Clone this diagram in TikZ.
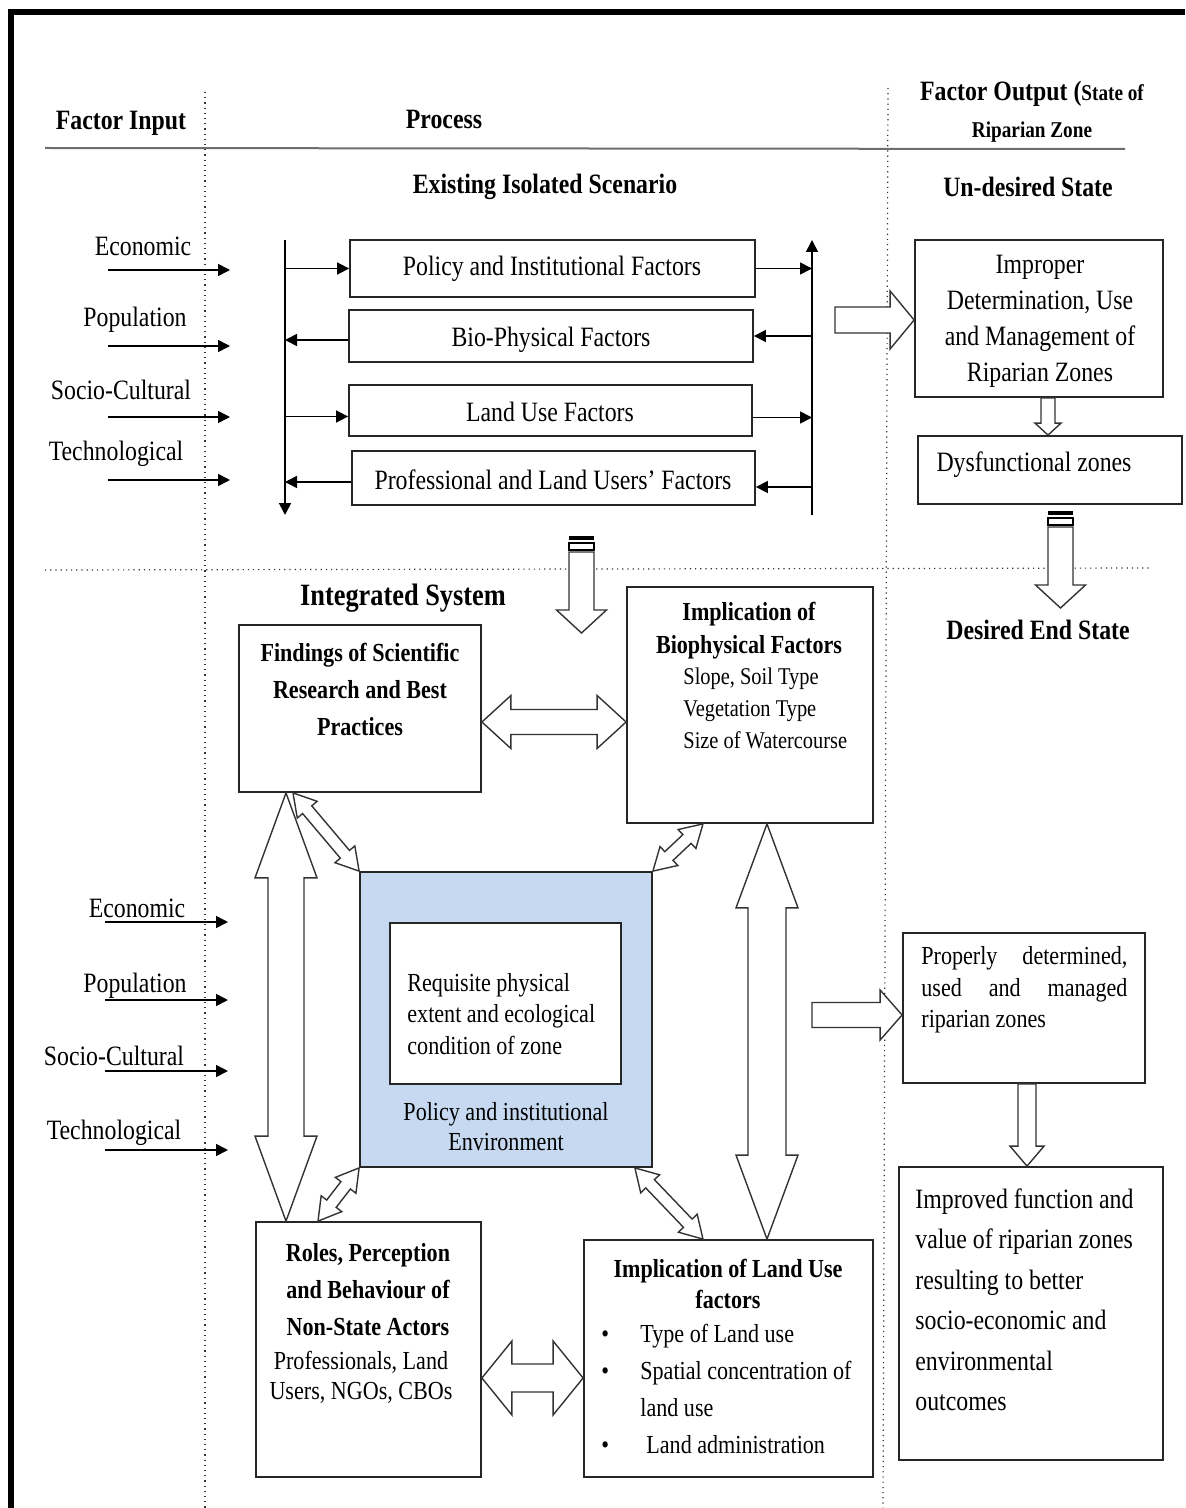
\documentclass[tikz,border=0pt]{standalone}
\usepackage{fontspec}
\setmainfont[FakeStretch=0.85]{Liberation Serif}
\usetikzlibrary{arrows.meta, positioning, fit, calc}
\definecolor{envblue}{RGB}{198,217,240}
\definecolor{rulegray}{RGB}{110,110,110}

\tikzset{
  box/.style={draw=black!85, line width=0.9pt, inner sep=0pt},
  hollow/.style={draw=black!80, line width=0.7pt, fill=white},
  arr/.style={-{Triangle[length=6pt,width=6pt]}, line width=0.8pt},
  sep/.style={dotted, line width=0.6pt, black!80},
  hd/.style={font=\fontsize{14}{18}\selectfont\bfseries},
  sm/.style={font=\fontsize{13}{#1}\selectfont},
  smb/.style={font=\fontsize{13}{#1}\selectfont\bfseries},
}

% hollow block arrow: tail #1, tip #2, half shaft #3, half head #4, head length #5
\newcommand{\hollowone}[5]{%
  \draw[hollow] ($(#1)!#3!90:(#2)$) -- ($(#2)!#5!(#1)!#3!-90:(#1)$)
    -- ($(#2)!#5!(#1)!#4!-90:(#1)$) -- (#2) -- ($(#2)!#5!(#1)!#4!90:(#1)$)
    -- ($(#2)!#5!(#1)!#3!90:(#1)$) -- ($(#1)!#3!-90:(#2)$) -- cycle;}
% hollow double block arrow between #1 and #2
\newcommand{\hollowtwo}[5]{%
  \draw[hollow] (#1) -- ($(#1)!#5!(#2)!#4!90:(#2)$) -- ($(#1)!#5!(#2)!#3!90:(#2)$)
    -- ($(#2)!#5!(#1)!#3!-90:(#1)$) -- ($(#2)!#5!(#1)!#4!-90:(#1)$) -- (#2)
    -- ($(#2)!#5!(#1)!#4!90:(#1)$) -- ($(#2)!#5!(#1)!#3!90:(#1)$)
    -- ($(#1)!#5!(#2)!#3!-90:(#2)$) -- ($(#1)!#5!(#2)!#4!-90:(#2)$) -- cycle;}

\begin{document}
\begin{tikzpicture}[x=0.5pt, y=-0.5pt, inner sep=0pt, font=\fontsize{14}{17}\selectfont]
    \useasboundingbox (0,0) rectangle (1185,1508);
    % Frame
    \draw[line width=3pt] (11,1508) -- (11,12) -- (1185,12);

    % Column heads
    \node[hd] (finput) at (121,123) {Factor Input};
    \node[hd] (proc) at (444,119) {Process};
    \node[align=center, font=\fontsize{14}{18.5}\selectfont\bfseries] (foutput) at (1032,112)
        {Factor Output ({\fontsize{11.3}{14}\selectfont State of}\\{\fontsize{11.3}{14}\selectfont Riparian Zone}};
    \draw[rulegray, line width=1pt] (45,148) -- (1125,149);

    % Separators
    \draw[sep] (205,92) -- (205,1508);
    \draw[sep] (888,88) -- (883,1508);
    \draw[sep] (45,570) -- (1150,568);

    % Titles
    \node[hd] (exist) at (545,187) {Existing Isolated Scenario};
    \node[hd] (undes) at (1028,187) {Un-desired State};
    \node[hd] (desired) at (1038,630) {Desired End State};
    \node[font=\fontsize{15.5}{18}\selectfont\bfseries] (integ) at (403,598) {Integrated System};

    % Factor inputs
    \foreach \i/\t/\lx/\ly/\ay in {1/Economic/143/246/270, 2/Population/135/320/346,
        3/Socio-Cultural/121/390/417, 4/Technological/116/454/480}{
      \node (inpa\i) at (\lx,\ly) {\t};
      \coordinate (inas\i) at (108,\ay);
      \coordinate (inae\i) at (230,\ay);
      \draw[arr] (inas\i) -- (inae\i);
    }
    \foreach \i/\t/\lx/\ly/\ay in {1/Economic/137/908/922, 2/Population/135/986/1000,
        3/Socio-Cultural/114/1056/1071, 4/Technological/114/1133/1150}{
      \node (inpb\i) at (\lx,\ly) {\t};
      \coordinate (inbs\i) at (105,\ay);
      \coordinate (inbe\i) at (228,\ay);
      \draw[arr] (inbs\i) -- (inbe\i);
    }

    % Existing isolated scenario
    \node[box, fit={(350,240) (755,297)}] (pif) {};
    \node[box, fit={(349,310) (753,362)}] (bpf) {};
    \node[box, fit={(349,385) (752,436)}] (luf) {};
    \node[box, fit={(352,451) (755,505)}] (plf) {};
    \node (piftxt) at (552,269) {Policy and Institutional Factors};
    \node (bpftxt) at (551,340) {Bio-Physical Factors};
    \node (luftxt) at (550,412) {Land Use Factors};
    \node (plftxt) at (553,480) {Professional and Land Users’ Factors};

    \coordinate (vl1) at (285,240);
    \coordinate (vl2) at (285,515);
    \coordinate (vr1) at (812,515);
    \coordinate (vr2) at (812,240);
    \draw[arr] (vl1) -- (vl2);
    \draw[arr] (vr1) -- (vr2);

    \coordinate (bpfw) at ([yshift=-2pt]bpf.west);
    \coordinate (lufw) at ([yshift=-3pt]luf.west);
    \coordinate (lufe) at ([yshift=-3.5pt]luf.east);
    \coordinate (plfw) at ([yshift=-2pt]plf.west);
    \coordinate (plfe) at ([yshift=-4.5pt]plf.east);
    \draw[arr] (vl1 |- pif.west) -- (pif.west);
    \draw[arr] (pif.east) -- (vr1 |- pif.east);
    \draw[arr] (bpfw) -- (vl1 |- bpfw);
    \draw[arr] (vr1 |- bpf.east) -- (bpf.east);
    \draw[arr] (vl1 |- lufw) -- (lufw);
    \draw[arr] (lufe) -- (vr1 |- lufe);
    \draw[arr] (plfw) -- (vl1 |- plfw);
    \draw[arr] (vr1 |- plfe) -- (plfe);

    % Un-desired state
    \node[box, fit={(915,240) (1163,397)}] (impr) {};
    \node[align=center, font=\fontsize{14}{18}\selectfont] (imprtxt) at (1040,321)
        {Improper\\Determination, Use\\and Management of\\Riparian Zones};
    \node[box, fit={(918,436) (1182,504)}] (dys) {};
    \node (dystxt) at (1034,465) {Dysfunctional zones};

    \coordinate (exo) at (835,320);
    \coordinate (exi) at (impr.west |- exo);
    \hollowone{exo}{exi}{6.5pt}{14.5pt}{12pt}
    \coordinate (id1) at (1048,0 |- impr.south);
    \coordinate (id2) at (1048,0 |- dys.north);
    \hollowone{id1}{id2}{3.5pt}{6.5pt}{6pt}

    % Striped arrows
    \fill (1048,511) rectangle (1073,515);
    \draw[line width=0.6pt] (1048,518) rectangle (1073,525);
    \coordinate (dz1) at (1060.5,527);
    \coordinate (dz2) at (1060.5,608);
    \hollowone{dz1}{dz2}{6.25pt}{12.5pt}{11.5pt}
    \fill (569,536) rectangle (594,540);
    \draw[line width=0.6pt] (569,543) rectangle (594,550);
    \coordinate (ce1) at (581.5,552);
    \coordinate (ce2) at (581.5,633);
    \hollowone{ce1}{ce2}{6.25pt}{12.5pt}{11.5pt}

    % Integrated system
    \node[box, fit={(239,625) (481,792)}] (find) {};
    \node[align=center, smb=18.5] (findtxt) at (360,689)
        {Findings of Scientific\\Research and Best\\Practices};
    \node[box, fit={(627,587) (873,823)}] (bio) {};
    \node[align=center, smb=16.5] (biotxt) at (749,631)
        {Implication of\\Biophysical Factors};
    \node[align=left, anchor=west, font=\fontsize{12}{16}\selectfont] (biolist) at (683,708)
        {Slope, Soil Type\\Vegetation Type\\Size of Watercourse};

    \node[box, fill=envblue, fit={(360,872) (652,1167)}] (env) {};
    \node[box, fill=white, fit={(390,923) (621,1084)}] (req) {};
    \node[align=left, anchor=west, sm=15.75] (reqtxt) at (407,1014)
        {Requisite physical\\extent and ecological\\condition of zone};
    \node[align=center, sm=15] (envtxt) at (506,1127)
        {Policy and institutional\\Environment};

    \node[box, fit={(256,1222) (481,1477)}] (roles) {};
    \node[align=center, smb=18.5] (rolestxt) at (368,1290)
        {Roles, Perception\\and Behaviour of\\Non-State Actors};
    \node[align=center, sm=15] (rolessub) at (361,1377)
        {Professionals, Land\\Users, NGOs, CBOs};

    \node[box, fit={(584,1240) (873,1477)}] (land) {};
    \node[align=center, smb=15.5] (landtxt) at (728,1284)
        {Implication of Land Use\\factors};
    \node[align=left, anchor=west, sm=18.6] (landlist) at (601,1389)
        {\makebox[19.5pt][l]{\textbullet}Type of Land use\\
         \makebox[19.5pt][l]{\textbullet}Spatial concentration of\\
         \hspace*{19.5pt}land use\\
         \makebox[22.5pt][l]{\textbullet}Land administration};

    % Desired end state
    \node[box, fit={(903,933) (1145,1083)}] (prop) {};
    \node[align=left, anchor=west, sm=15.75] (proptxt) at (921,990)
        {\makebox[103pt][s]{Properly determined,}\\\makebox[103pt][s]{used and managed}\\riparian zones};
    \node[box, fit={(899,1167) (1163,1460)}] (impv) {};
    \node[align=left, anchor=west, font=\fontsize{14}{20.25}\selectfont] (impvtxt) at (915,1300)
        {Improved function and\\value of riparian zones\\resulting to better\\socio-economic and\\environmental\\outcomes};

    % Block arrows
    \coordinate (fb1) at ($(find.east)+(0,13.5)$);
    \coordinate (fb2) at (bio.west |- fb1);
    \hollowtwo{fb1}{fb2}{6.25pt}{13.25pt}{14.5pt}
    \coordinate (rl1) at ($(roles.east)+(0,28.5)$);
    \coordinate (rl2) at (land.west |- rl1);
    \hollowtwo{rl1}{rl2}{7pt}{18.5pt}{15pt}
    \coordinate (lv1) at (286,0 |- find.south);
    \coordinate (lv2) at (286,0 |- roles.north);
    \hollowtwo{lv1}{lv2}{9pt}{15.5pt}{42.5pt}
    \coordinate (rv1) at (767,0 |- bio.south);
    \coordinate (rv2) at (767,0 |- land.north);
    \hollowtwo{rv1}{rv2}{9.5pt}{15.5pt}{42pt}

    \coordinate (d1) at (293,0 |- find.south);
    \hollowtwo{d1}{env.north west}{3pt}{6.5pt}{11pt}
    \coordinate (d2) at (703,0 |- bio.south);
    \hollowtwo{d2}{env.north east}{3pt}{6.5pt}{11pt}
    \coordinate (d3) at (318,0 |- roles.north);
    \hollowtwo{env.south west}{d3}{3pt}{6.5pt}{11pt}
    \coordinate (d4a) at ($(env.south east)+(-18,0)$);
    \coordinate (d4b) at (703,0 |- land.north);
    \hollowtwo{d4a}{d4b}{3pt}{6.5pt}{11pt}

    \coordinate (ep1) at (812,1015);
    \coordinate (ep2) at (prop.west |- ep1);
    \hollowone{ep1}{ep2}{6.25pt}{12.5pt}{11pt}
    \coordinate (pi1) at (1027,0 |- prop.south);
    \coordinate (pi2) at (1027,0 |- impv.north);
    \hollowone{pi1}{pi2}{4.5pt}{8.5pt}{10pt}
\end{tikzpicture}
\end{document}
